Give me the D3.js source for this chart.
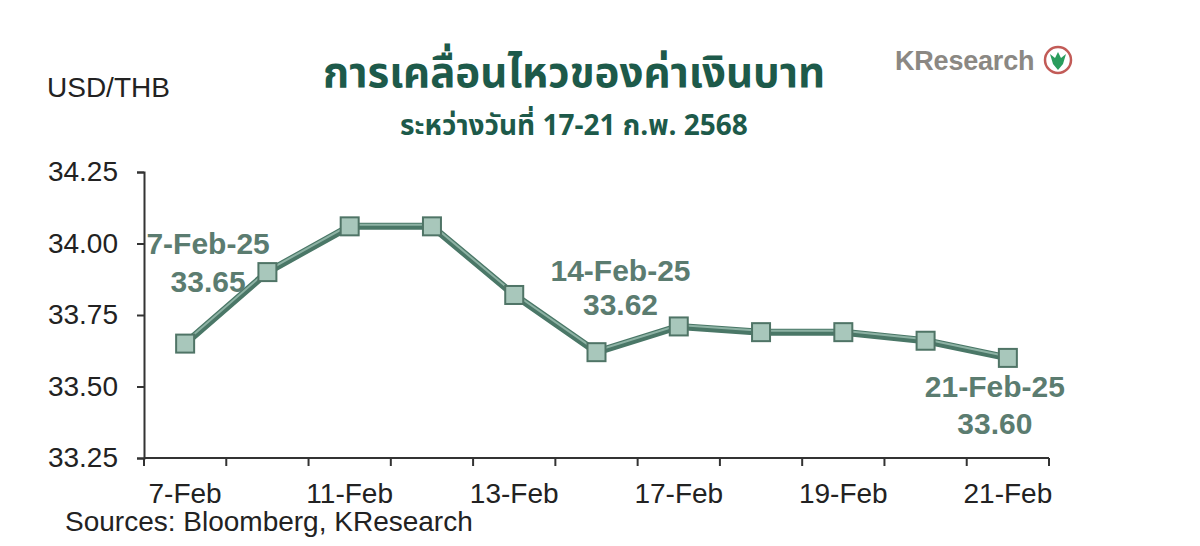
<!DOCTYPE html>
<html>
<head>
<meta charset="utf-8">
<style>
  body { margin: 0; background: #fff; }
  svg { display: block; }
  text { font-family: "Liberation Sans", Arial, sans-serif; }
  .thai { font-family: "Noto Sans Thai", "Noto Sans", "DejaVu Sans", sans-serif; }
</style>
</head>
<body>
<svg width="1200" height="546"></svg>
<script src="https://cdn.jsdelivr.net/npm/d3@7/dist/d3.min.js"></script>
<script>

var dates = ["7-Feb", "10-Feb", "11-Feb", "12-Feb", "13-Feb", "14-Feb", "17-Feb", "18-Feb", "19-Feb", "20-Feb", "21-Feb"];
var rates = [33.65, 33.90, 34.06, 34.06, 33.82, 33.62, 33.71, 33.69, 33.69, 33.66, 33.60];
var yTicks = [33.25, 33.50, 33.75, 34.00, 34.25];
var shownLabels = ["7-Feb", "11-Feb", "13-Feb", "17-Feb", "19-Feb", "21-Feb"];
var callouts = [
  { i: 0, date: "7-Feb-25", value: "33.65" },
  { i: 5, date: "14-Feb-25", value: "33.62" },
  { i: 10, date: "21-Feb-25", value: "33.60" }
];

var svg = d3.select("svg");

var x = d3.scaleBand().domain(dates).range([144, 1049]).padding(0);
var y = d3.scaleLinear().domain([33.25, 34.25]).range([458, 172]);

// title
svg.append("text").attr("class", "thai")
  .attr("x", 574).attr("y", 87)
  .attr("text-anchor", "middle")
  .style("font-size", "42px").style("font-weight", "bold")
  .style("fill", "#1d5a4a")
  .text("การเคลื่อนไหวของค่าเงินบาท");

svg.append("text").attr("class", "thai")
  .attr("x", 574).attr("y", 135)
  .attr("text-anchor", "middle")
  .style("font-size", "28px").style("font-weight", "bold")
  .style("fill", "#1d5a4a")
  .text("ระหว่างวันที่ 17-21 ก.พ. 2568");

svg.append("text")
  .attr("x", 47).attr("y", 97)
  .style("font-size", "28px").style("fill", "#222")
  .text("USD/THB");

// logo
svg.append("text")
  .attr("x", 895).attr("y", 70)
  .style("font-size", "27px").style("font-weight", "bold")
  .style("fill", "#8b8883").style("letter-spacing", "-0.2px")
  .text("KResearch");
svg.append("circle")
  .attr("cx", 1058).attr("cy", 60).attr("r", 13)
  .attr("fill", "#fff").attr("stroke", "#c25b57").attr("stroke-width", 2.5);
svg.append("path")
  .attr("d", "M1050,54 L1055,58 L1058,52 L1061,58 L1066,54 L1063,64 L1058,70 L1053,64 Z")
  .attr("fill", "#2a9c5c");

// y axis
var yAxis = svg.append("g")
  .attr("transform", "translate(144,0)")
  .call(d3.axisLeft(y).tickValues(yTicks).tickFormat(d3.format(".2f")).tickSize(7).tickPadding(19));
yAxis.select(".domain").attr("stroke", "#333").attr("stroke-width", 2);
yAxis.selectAll(".tick line").attr("stroke", "#333").attr("stroke-width", 2);
yAxis.selectAll(".tick text")
  .style("font-size", "28px").style("fill", "#222")
  .style("font-family", "Liberation Sans, Arial, sans-serif");

// x axis: ticks on category boundaries, labels on every other category
var xAxis = svg.append("g").attr("transform", "translate(0,458)");
xAxis.append("line")
  .attr("x1", x.range()[0]).attr("x2", x.range()[1])
  .attr("stroke", "#333").attr("stroke-width", 2);
xAxis.selectAll(".tk")
  .data(dates.concat(["end"]))
  .enter().append("line")
  .attr("x1", (d, i) => x.range()[0] + i * x.step())
  .attr("x2", (d, i) => x.range()[0] + i * x.step())
  .attr("y1", 0).attr("y2", 8)
  .attr("stroke", "#333").attr("stroke-width", 2);
xAxis.selectAll(".lbl")
  .data(shownLabels)
  .enter().append("text")
  .attr("x", d => x(d) + x.bandwidth() / 2)
  .attr("y", 45)
  .attr("text-anchor", "middle")
  .style("font-size", "28px").style("fill", "#222")
  .text(d => d);

// line
var line = d3.line()
  .x((d, i) => x(dates[i]) + x.bandwidth() / 2)
  .y(d => y(d));

svg.append("path")
  .datum(rates)
  .attr("d", line)
  .attr("fill", "none")
  .attr("stroke", "#4a7767")
  .attr("stroke-width", 7)
  .attr("stroke-linejoin", "round");
svg.append("path")
  .datum(rates)
  .attr("d", line)
  .attr("transform", "translate(0,-1.5)")
  .attr("fill", "none")
  .attr("stroke", "#8db2a4")
  .attr("stroke-width", 2);

svg.selectAll(".pt")
  .data(rates)
  .enter().append("rect")
  .attr("x", (d, i) => x(dates[i]) + x.bandwidth() / 2 - 9)
  .attr("y", d => y(d) - 9)
  .attr("width", 18).attr("height", 18)
  .attr("fill", "#a8c7bb")
  .attr("stroke", "#4f7466")
  .attr("stroke-width", 2);

// callouts
var offsets = { 0: [23, -90, -52], 5: [24, -71, -37], 10: [-13, 39, 76] };
callouts.forEach(function(c) {
  var cx = x(dates[c.i]) + x.bandwidth() / 2 + offsets[c.i][0];
  var cy = y(rates[c.i]);
  svg.append("text")
    .attr("x", cx).attr("y", cy + offsets[c.i][1])
    .attr("text-anchor", "middle")
    .style("font-size", "30px").style("font-weight", "bold")
    .style("fill", "#5b7c70")
    .text(c.date);
  svg.append("text")
    .attr("x", cx).attr("y", cy + offsets[c.i][2])
    .attr("text-anchor", "middle")
    .style("font-size", "30px").style("font-weight", "bold")
    .style("fill", "#5b7c70")
    .text(c.value);
});

// source
svg.append("text")
  .attr("x", 65).attr("y", 531)
  .style("font-size", "28px").style("fill", "#222")
  .text("Sources: Bloomberg, KResearch");

</script>
</body>
</html>
